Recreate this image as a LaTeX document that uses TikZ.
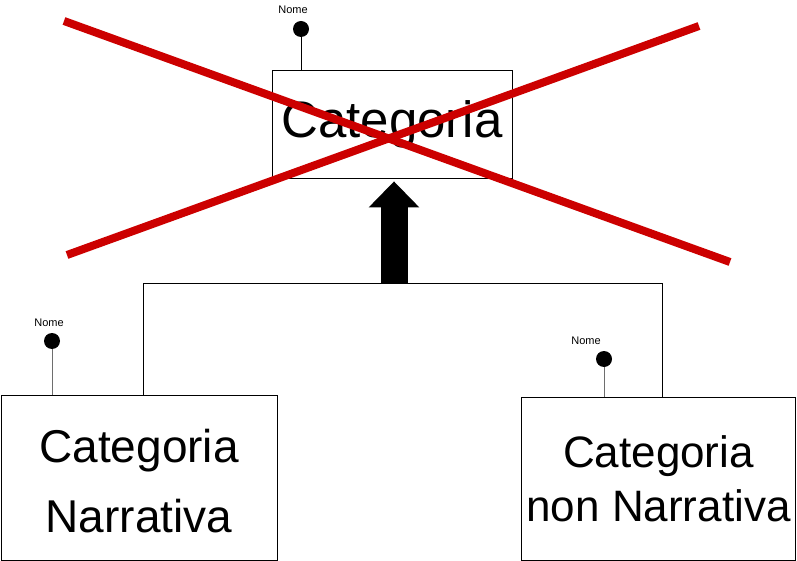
\documentclass[tikz,border=0pt]{standalone}
\usepackage{fontspec}
\setmainfont{Liberation Sans}
\usetikzlibrary{arrows.meta}
\definecolor{crossred}{RGB}{204,0,0}
\definecolor{stemgray}{RGB}{110,110,110}
\tikzset{
  entity/.style={draw,thick,inner sep=0pt,align=center},
  attr/.style={circle,fill=black,inner sep=0pt,minimum size=16pt},
  attrname/.style={inner sep=0pt,font=\fontsize{11}{13}\selectfont},
  isa/.style={line width=27pt,-{Triangle[width=49pt,length=26pt]},shorten >=3pt},
}
\begin{document}
\begin{tikzpicture}[x=1pt,y=-1pt]
      \useasboundingbox (0,0) rectangle (797,561);

      % entita' generale e figlie
      \node[entity,minimum width=240pt,minimum height=108pt,
        font=\fontsize{51}{54}\selectfont] (cat) at (392,124) {Categoria};
      \node[entity,minimum width=276pt,minimum height=165pt] (narr) at (139,477.5) {};
      \node[font=\fontsize{46}{70}\selectfont,align=center,inner sep=0pt]
        (narrtxt) at (139,481) {Categoria\\Narrativa};
      \node[entity,minimum width=274pt,minimum height=163pt,
        font=\fontsize{44}{54}\selectfont] (nonnarr) at (658.5,478.5) {Categoria\\non Narrativa};

      % attributi
      \node[attr] (nomecat) at (301,29) {};
      \node[attrname] (nomecatlbl) at (293,10) {Nome};
      \draw[thick] (nomecat) -- (nomecat |- cat.north);

      \node[attr] (nomenarr) at (52,341) {};
      \node[attrname] (nomenarrlbl) at (49,323) {Nome};
      \draw[thick,stemgray] (nomenarr) -- (nomenarr |- narr.north);

      \node[attr] (nomenon) at (604,359) {};
      \node[attrname] (nomenonlbl) at (586,341) {Nome};
      \draw[thick,stemgray] (nomenon) -- (nomenon |- nonnarr.north);

      % generalizzazione
      \coordinate (joinl) at (143,283);
      \coordinate (joinr) at (662,283);
      \coordinate (hub) at (394,283);
      \draw[thick] (joinl |- narr.north) -- (joinl) -- (joinr) -- (joinr |- nonnarr.north);
      \draw[isa] (hub) -- (hub |- cat.south);

      % croce
      \draw[crossred,line width=8pt] (64,21) -- (730,262);
      \draw[crossred,line width=8pt] (67,255) -- (699,26);
    \end{tikzpicture}
\end{document}
